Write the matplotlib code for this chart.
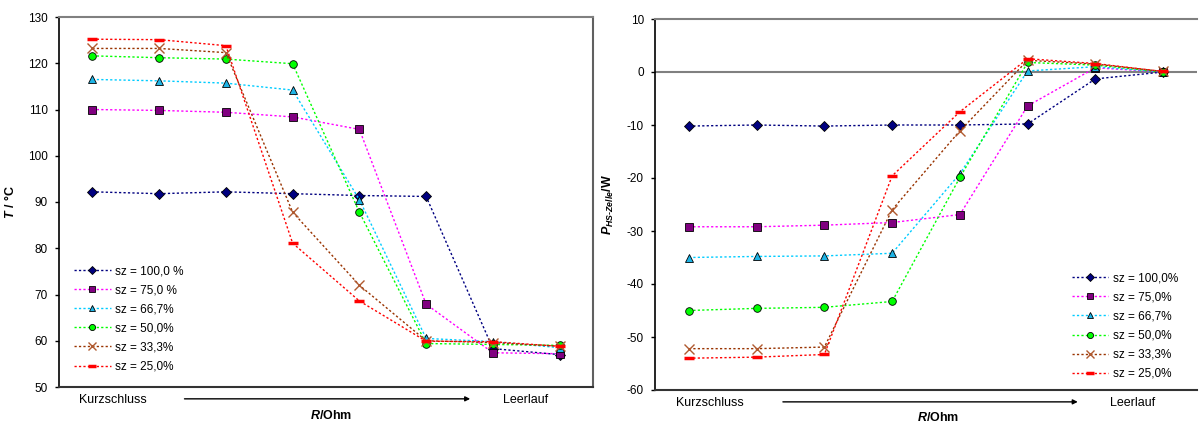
import matplotlib
matplotlib.use("Agg")
import matplotlib.pyplot as plt
import numpy as np

plt.rcParams['font.family'] = ['Liberation Sans', 'DejaVu Sans']
plt.rcParams['mathtext.fontset'] = 'custom'
plt.rcParams['mathtext.it'] = 'Liberation Sans:italic:bold'
plt.rcParams['mathtext.rm'] = 'Liberation Sans:bold'
plt.rcParams['mathtext.bf'] = 'Liberation Sans:bold'
plt.rcParams['axes.unicode_minus'] = False

# ---------------- data ----------------
x_start_label = "Kurzschluss"
x_end_label = "Leerlauf"
n_steps = 8

labels_left = ["sz = 100,0 %", "sz = 75,0 %", "sz = 66,7%", "sz = 50,0%", "sz = 33,3%", "sz = 25,0%"]
labels_right = ["sz = 100,0%", "sz = 75,0%", "sz = 66,7%", "sz = 50,0%", "sz = 33,3%", "sz = 25,0%"]

T_100 = [92.2, 91.8, 92.2, 91.8, 91.4, 91.2, 58.3, 57.0]
T_75 = [110.0, 109.8, 109.4, 108.4, 105.7, 67.9, 57.4, 57.2]
T_667 = [116.5, 116.2, 115.7, 114.2, 90.5, 60.5, 59.8, 58.5]
T_50 = [121.6, 121.2, 120.9, 119.9, 87.8, 59.4, 59.2, 59.0]
T_333 = [123.2, 123.2, 122.3, 87.8, 72.0, 60.0, 59.6, 58.8]
T_25 = [125.2, 125.1, 123.8, 81.1, 68.6, 59.9, 59.8, 58.8]

P_100 = [-10.2, -10.0, -10.2, -10.0, -10.0, -9.8, -1.3, 0.0]
P_75 = [-29.2, -29.2, -28.9, -28.4, -26.9, -6.4, 0.8, 0.0]
P_667 = [-35.0, -34.8, -34.7, -34.2, -19.2, 0.2, 1.0, 0.0]
P_50 = [-45.0, -44.6, -44.4, -43.3, -19.9, 1.8, 1.3, 0.0]
P_333 = [-52.2, -52.2, -51.9, -26.0, -11.1, 2.2, 1.5, 0.1]
P_25 = [-54.0, -53.8, -53.3, -19.6, -7.5, 2.5, 1.6, 0.1]

T_series = [T_100, T_75, T_667, T_50, T_333, T_25]
P_series = [P_100, P_75, P_667, P_50, P_333, P_25]

# ---------------- styles ----------------
styles = [
    dict(color='#000080', marker='D', mfc='#000080', mec='#000000', ms=5, mew=0.6),
    dict(color='#FF00FF', marker='s', mfc='#800080', mec='#000000', ms=5.5, mew=0.6),
    dict(color='#00CCFF', marker='^', mfc='#1EB4E6', mec='#000000', ms=6, mew=0.6),
    dict(color='#00FF00', marker='o', mfc='#00FF00', mec='#000000', ms=5.5, mew=0.6),
    dict(color='#993300', marker='x', mfc='#B05A30', mec='#B05A30', ms=6.5, mew=1.0),
    dict(color='#FF0000', marker='_', mfc='#FF0000', mec='#FF0000', ms=7, mew=2.5),
]
dash = (0, (1.6, 1.6))

W, H = 1199, 425
fig = plt.figure(figsize=(W / 100, H / 100), dpi=100)

def px_axes(l, r, t, b):
    return fig.add_axes([l / W, (H - b) / H, (r - l) / W, (b - t) / H])

axL = px_axes(59, 593, 17, 387)
axR = px_axes(655, 1197, 19, 390)

x = np.arange(n_steps)

def style_axes(ax, right_visible=True):
    ax.set_xlim(-0.5, n_steps - 0.5)
    ax.set_xticks([])
    ax.tick_params(axis='y', direction='out', length=3, width=1.0, pad=5, labelsize=8.5,
                   colors='#000000')
    ax.spines['left'].set_color('#000000')
    ax.spines['left'].set_linewidth(1.2)
    ax.spines['bottom'].set_color('#333333')
    ax.spines['bottom'].set_linewidth(1.5)
    ax.spines['top'].set_color('#808080')
    ax.spines['top'].set_linewidth(1.5)
    ax.spines['right'].set_color('#606060')
    ax.spines['right'].set_linewidth(1.5)
    ax.spines['right'].set_visible(right_visible)

def bottom_texts(ax, ks_x, a0, a1, ll_x, r_x, r_y):
    ax.text(ks_x, -0.034, x_start_label, transform=ax.transAxes, ha='center', va='center', fontsize=9)
    ax.text(ll_x, -0.034, x_end_label, transform=ax.transAxes, ha='center', va='center', fontsize=9)
    ax.annotate('', xy=(a1, -0.032), xytext=(a0, -0.032), xycoords='axes fraction',
                textcoords='axes fraction',
                arrowprops=dict(arrowstyle='-|>', color='#000000', lw=1.0,
                                mutation_scale=7, shrinkA=0, shrinkB=0),
                annotation_clip=False)
    ax.text(r_x, r_y, '$R$/Ohm', transform=ax.transAxes, ha='center', va='center',
            fontsize=9, fontweight='bold')

# ---------------- left: temperature ----------------
for vals, st, lab in zip(T_series, styles, labels_left):
    axL.plot(x, vals, linestyle=dash, lw=1.0, label=lab, **st)
style_axes(axL, True)
axL.set_ylim(50, 130)
axL.set_yticks(np.arange(50, 131, 10))
axL.set_ylabel('$T$ / °C', fontsize=9, fontweight='bold')
axL.yaxis.set_label_coords(-0.079, 0.5)
legL = axL.legend(loc='upper left', bbox_to_anchor=(0.028, 0.329), frameon=False,
                  fontsize=8.5, handlelength=3.1, handletextpad=0.4, labelspacing=0.6,
                  borderpad=0, borderaxespad=0, numpoints=1, markerscale=0.8)
bottom_texts(axL, 0.101, 0.235, 0.770, 0.873, 0.51, -0.078)

# ---------------- right: power ----------------
axR.axhline(0, color='#808080', lw=1.5, zorder=1)
for vals, st, lab in zip(P_series, styles, labels_right):
    axR.plot(x, vals, linestyle=dash, lw=1.0, label=lab, zorder=3, **st)
style_axes(axR, False)
axR.set_ylim(-60, 10)
axR.set_yticks(np.arange(-60, 11, 10))
axR.set_ylabel('$P_{HS\\text{-}Zelle}$/W', fontsize=9, fontweight='bold')
axR.yaxis.set_label_coords(-0.072, 0.5)
legR = axR.legend(loc='upper left', bbox_to_anchor=(0.769, 0.317), frameon=False,
                  fontsize=8.5, handlelength=3.1, handletextpad=0.4, labelspacing=0.6,
                  borderpad=0, borderaxespad=0, numpoints=1, markerscale=0.8)
bottom_texts(axR, 0.101, 0.236, 0.780, 0.882, 0.522, -0.073)

fig.savefig('out.png', dpi=100)
